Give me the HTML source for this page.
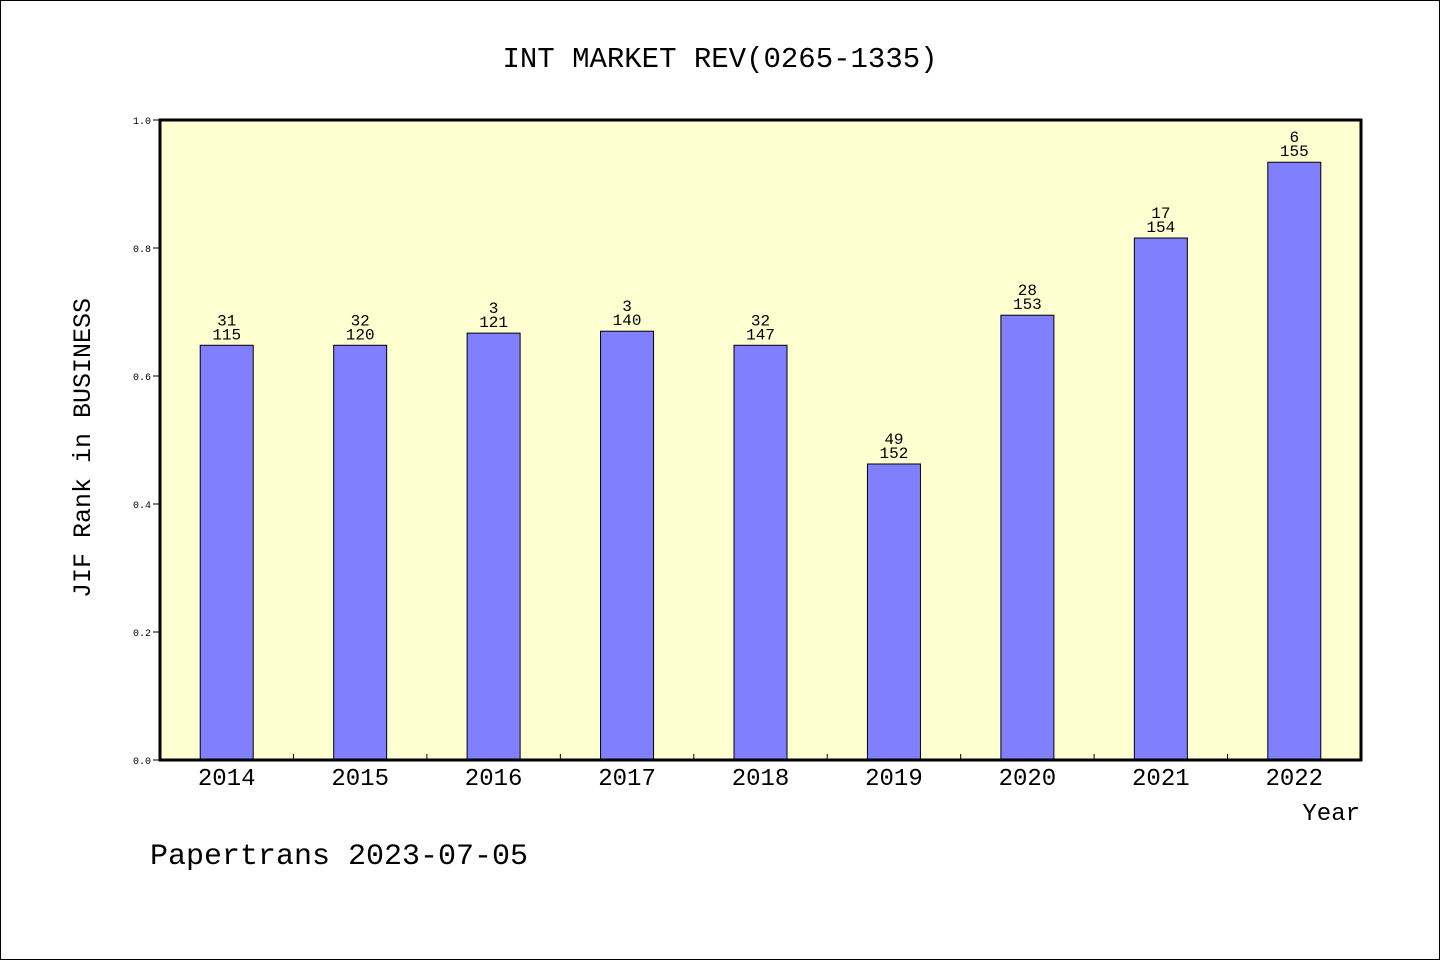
<!DOCTYPE html>
<html><head><meta charset="utf-8"><style>
html,body{margin:0;padding:0;background:#fff}
svg{display:block}
text{font-family:"Liberation Mono","DejaVu Sans Mono",monospace;fill:#000}
</style></head><body>
<svg width="1440" height="960" viewBox="0 0 1440 960">
<rect x="0.5" y="0.5" width="1439" height="959" fill="#fff" stroke="#000"/>
<text x="720" y="67" text-anchor="middle" font-size="29">INT MARKET REV(0265-1335)</text>
<rect x="160" y="120" width="1201" height="640" fill="#ffffd2"/>
<g id="ticks"></g>
<g id="bars"></g>
<rect x="160" y="120" width="1201" height="640" fill="none" stroke="#000" stroke-width="3"/>
<text x="90" y="448" transform="rotate(-90 90 448)" text-anchor="middle" font-size="25">JIF Rank in BUSINESS</text>
<text x="1360" y="820" text-anchor="end" font-size="24">Year</text>
<text x="150" y="864" font-size="30">Papertrans 2023-07-05</text>
</svg>
<script>
const categories=["2014","2015","2016","2017","2018","2019","2020","2021","2022"];
const values=[0.648,0.648,0.667,0.670,0.648,0.4625,0.695,0.8156,0.934];
const ranks=["31","32","3","3","32","49","28","17","6"];
const totals=["115","120","121","140","147","152","153","154","155"];
const yTicks=["0.0","0.2","0.4","0.6","0.8","1.0"];
const NS="http://www.w3.org/2000/svg";
const L=160,R=1361,T=120,B=760;
const band=(R-L)/categories.length;
const x=i=>L+band*(i+0.5);
const y=v=>B-(B-T)*v;
function mk(tag,attrs,parent,txt){const e=document.createElementNS(NS,tag);for(const k in attrs)e.setAttribute(k,attrs[k]);if(txt!==undefined)e.textContent=txt;parent.appendChild(e);return e;}
const tg=document.getElementById('ticks'),bg=document.getElementById('bars');
yTicks.forEach(t=>{const v=parseFloat(t);
const ln=mk('line',{x1:153,x2:160,y1:y(v),y2:y(v),stroke:'#000'},tg);


const tx=mk('text',{x:151,y:y(v)+4,'text-anchor':'end','font-size':10},tg,t);

});
for(let i=1;i<categories.length;i++){const xx=L+band*i;
const ln=mk('line',{x1:xx,x2:xx,y1:B-6,y2:B,stroke:'#000'},tg);

}
const bw=53;
categories.forEach((c,i)=>{
const r=mk('rect',{x:x(i)-bw/2,y:y(values[i]),width:bw,height:B-y(values[i]),fill:'#8080ff',stroke:'#000','stroke-width':1},bg);


const a=mk('text',{x:x(i),y:y(values[i])-20,'text-anchor':'middle','font-size':16},bg,ranks[i]);


const b=mk('text',{x:x(i),y:y(values[i])-6,'text-anchor':'middle','font-size':16},bg,totals[i]);


const xl=mk('text',{x:x(i),y:785,'text-anchor':'middle','font-size':24},bg,c);


});
</script>
</body></html>
